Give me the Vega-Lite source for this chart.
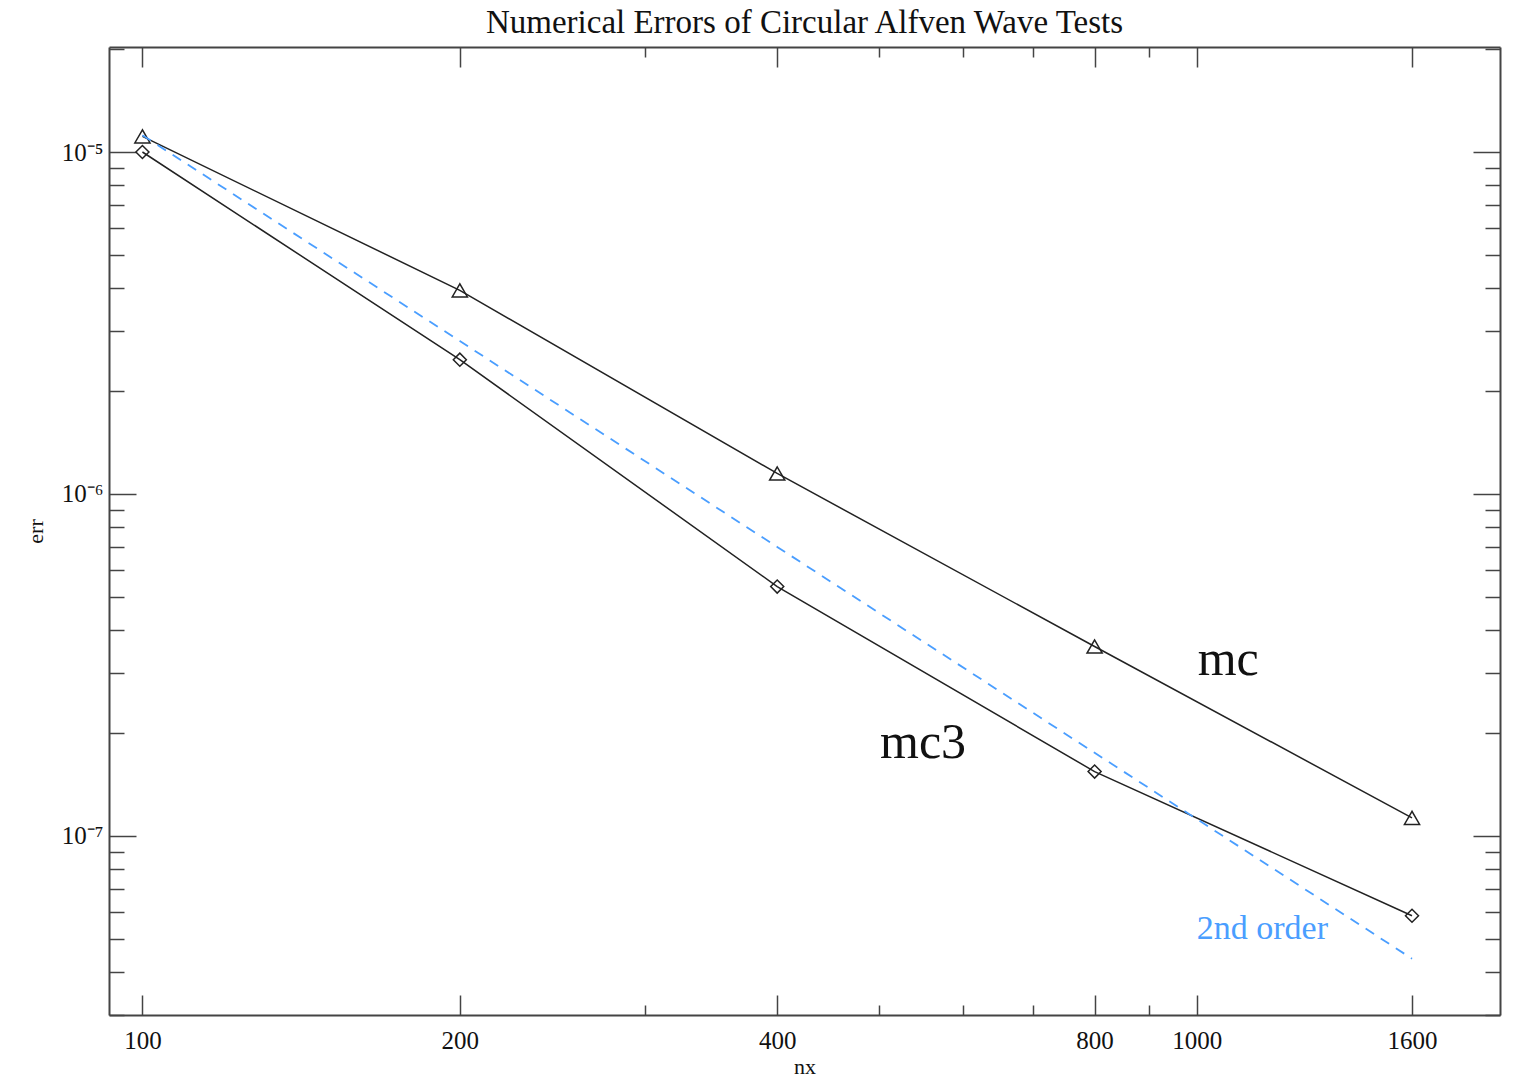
{
  "$schema": "https://vega.github.io/schema/vega-lite/v6.json",
  "width": 1391,
  "height": 968,
  "autosize": "none",
  "padding": {"left": 109, "top": 47, "right": 22, "bottom": 74},
  "background": "white",
  "title": {"text": "Numerical Errors of Circular Alfven Wave Tests", "font": "Liberation Serif", "fontSize": 33, "fontWeight": "normal", "color": "#111111", "offset": 6, "anchor": "middle"},
  "config": {
    "view": {"stroke": null},
    "axis": {"labelFont": "Liberation Serif", "titleFont": "Liberation Serif", "domainColor": "#444444", "tickColor": "#444444", "domainWidth": 2, "tickWidth": 1.5, "grid": false, "labelColor": "#111111", "titleColor": "#111111", "titleFontWeight": "normal", "labelFontSize": 25, "titleFontSize": 22}
  },
  "datasets": {
    "points": [
      {"nx": 100, "err": 1.111e-5, "series": "mc"},
      {"nx": 200, "err": 3.94e-6, "series": "mc"},
      {"nx": 400, "err": 1.148e-6, "series": "mc"},
      {"nx": 800, "err": 3.58e-7, "series": "mc"},
      {"nx": 1600, "err": 1.129e-7, "series": "mc"},
      {"nx": 100, "err": 1.0e-5, "series": "mc3"},
      {"nx": 200, "err": 2.47e-6, "series": "mc3"},
      {"nx": 400, "err": 5.36e-7, "series": "mc3"},
      {"nx": 800, "err": 1.542e-7, "series": "mc3"},
      {"nx": 1600, "err": 5.84e-8, "series": "mc3"}
    ],
    "order2": [
      {"nx": 100, "err": 1.12e-5},
      {"nx": 200, "err": 2.8e-6},
      {"nx": 400, "err": 7.0e-7},
      {"nx": 800, "err": 1.75e-7},
      {"nx": 1600, "err": 4.375e-8}
    ],
    "labelsBlack": [
      {"nx": 1071, "err": 3.26e-7, "text": "mc"},
      {"nx": 550, "err": 1.875e-7, "text": "mc3"}
    ],
    "labelsBlue": [
      {"nx": 1154, "err": 5.36e-8, "text": "2nd order"}
    ]
  },
  "layer": [
    {
      "data": {"name": "points"},
      "mark": {"type": "line", "color": "#222222", "strokeWidth": 1.5},
      "encoding": {
        "x": {"field": "nx", "type": "quantitative", "scale": {"type": "log", "domain": [92.96, 1939], "nice": false, "zero": false},
              "axis": {"orient": "bottom", "values": [100, 200, 400, 800, 1000, 1600], "ticks": false, "labelPadding": 13, "title": "nx", "titlePadding": 3, "format": "d", "labelFlush": false}},
        "y": {"field": "err", "type": "quantitative", "scale": {"type": "log", "domain": [2.994e-8, 2.028e-5], "nice": false, "zero": false},
              "axis": {"orient": "left", "values": [1e-5, 1e-6, 1e-7], "ticks": false, "labelPadding": 6, "title": "err", "titlePadding": 14,
                       "labelExpr": "'10' + (datum.value < 5e-7 ? '⁻⁷' : datum.value < 5e-6 ? '⁻⁶' : '⁻⁵')", "labelFlush": false}},
        "detail": {"field": "series"}
      }
    },
    {
      "data": {"name": "points"},
      "transform": [{"filter": "datum.series == 'mc'"}],
      "mark": {"type": "point", "shape": "triangle-up", "filled": false, "color": "#222222", "strokeWidth": 1.5, "size": 230, "opacity": 1},
      "encoding": {
        "x": {"field": "nx", "type": "quantitative", "scale": {"type": "log", "domain": [92.96, 1939], "nice": false, "zero": false},
              "axis": {"orient": "bottom", "values": [100, 200, 400, 800, 1000, 1600], "tickSize": -20, "labels": false, "title": null, "domain": false}},
        "y": {"field": "err", "type": "quantitative", "scale": {"type": "log", "domain": [2.994e-8, 2.028e-5], "nice": false, "zero": false},
              "axis": {"orient": "left", "values": [1e-5, 1e-6, 1e-7], "tickSize": -27, "labels": false, "title": null, "domain": false}}
      }
    },
    {
      "data": {"name": "points"},
      "transform": [{"filter": "datum.series == 'mc3'"}],
      "mark": {"type": "point", "shape": "diamond", "filled": false, "color": "#222222", "strokeWidth": 1.5, "size": 170, "opacity": 1},
      "encoding": {
        "x": {"field": "nx", "type": "quantitative", "scale": {"type": "log", "domain": [92.96, 1939], "nice": false, "zero": false},
              "axis": {"orient": "bottom", "values": [300, 500, 600, 700, 900], "tickSize": -10, "labels": false, "title": null, "domain": false}},
        "y": {"field": "err", "type": "quantitative", "scale": {"type": "log", "domain": [2.994e-8, 2.028e-5], "nice": false, "zero": false},
              "axis": {"orient": "left", "values": [3e-8, 4e-8, 5e-8, 6e-8, 7e-8, 8e-8, 9e-8, 2e-7, 3e-7, 4e-7, 5e-7, 6e-7, 7e-7, 8e-7, 9e-7, 2e-6, 3e-6, 4e-6, 5e-6, 6e-6, 7e-6, 8e-6, 9e-6, 2e-5], "tickSize": -15, "labels": false, "title": null, "domain": false}}
      }
    },
    {
      "data": {"name": "order2"},
      "mark": {"type": "line", "color": "#4a9eff", "strokeWidth": 1.8, "strokeDash": [10, 8]},
      "encoding": {
        "x": {"field": "nx", "type": "quantitative", "scale": {"type": "log", "domain": [92.96, 1939], "nice": false, "zero": false},
              "axis": {"orient": "top", "values": [100, 200, 400, 800, 1000, 1600], "tickSize": -20, "labels": false, "title": null}},
        "y": {"field": "err", "type": "quantitative", "scale": {"type": "log", "domain": [2.994e-8, 2.028e-5], "nice": false, "zero": false},
              "axis": {"orient": "right", "values": [1e-5, 1e-6, 1e-7], "tickSize": -27, "labels": false, "title": null}}
      }
    },
    {
      "data": {"name": "labelsBlack"},
      "mark": {"type": "text", "font": "Liberation Serif", "fontSize": 50, "color": "#111111", "align": "center", "baseline": "middle"},
      "encoding": {
        "x": {"field": "nx", "type": "quantitative", "scale": {"type": "log", "domain": [92.96, 1939], "nice": false, "zero": false},
              "axis": {"orient": "top", "values": [300, 500, 600, 700, 900], "tickSize": -10, "labels": false, "title": null, "domain": false}},
        "y": {"field": "err", "type": "quantitative", "scale": {"type": "log", "domain": [2.994e-8, 2.028e-5], "nice": false, "zero": false},
              "axis": {"orient": "right", "values": [3e-8, 4e-8, 5e-8, 6e-8, 7e-8, 8e-8, 9e-8, 2e-7, 3e-7, 4e-7, 5e-7, 6e-7, 7e-7, 8e-7, 9e-7, 2e-6, 3e-6, 4e-6, 5e-6, 6e-6, 7e-6, 8e-6, 9e-6, 2e-5], "tickSize": -15, "labels": false, "title": null, "domain": false}},
        "text": {"field": "text"}
      }
    },
    {
      "data": {"name": "labelsBlue"},
      "mark": {"type": "text", "font": "Liberation Serif", "fontSize": 34, "color": "#4a9eff", "align": "center", "baseline": "middle"},
      "encoding": {
        "x": {"field": "nx", "type": "quantitative", "scale": {"type": "log", "domain": [92.96, 1939], "nice": false, "zero": false}, "axis": null},
        "y": {"field": "err", "type": "quantitative", "scale": {"type": "log", "domain": [2.994e-8, 2.028e-5], "nice": false, "zero": false}, "axis": null},
        "text": {"field": "text"}
      }
    }
  ],
  "resolve": {"axis": {"x": "independent", "y": "independent"}}
}
